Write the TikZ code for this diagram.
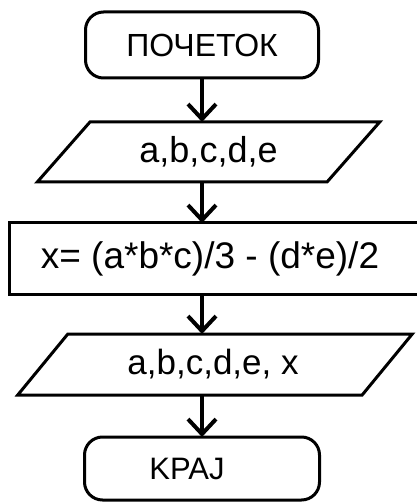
\documentclass[tikz,border=0pt]{standalone}
\usepackage{fontspec}
\setmainfont{Liberation Sans}
\usetikzlibrary{shapes.geometric,arrows.meta}
\begin{document}
\begin{tikzpicture}[x=1pt,y=-1pt,
  box/.style={draw=black,line width=3pt,inner sep=0pt,outer sep=0pt},
  term/.style={box,rectangle,rounded corners=18pt},
  io/.style={box,trapezium,trapezium left angle=45,trapezium right angle=135,trapezium stretches=true},
  proc/.style={box,rectangle},
  flow/.style={line width=4pt,-{Straight Barb[length=15pt,width=28pt]}}]
\useasboundingbox[fill=white] (0,0) rectangle (416,502);
\node[term,minimum width=233pt,minimum height=66pt] (start) at (202,45)
  {\fontsize{32}{36}\selectfont\raisebox{-5pt}{ПОЧЕТОК}};
\node[io,minimum width=343pt,minimum height=60pt] (in1) at (208.5,152)
  {\fontsize{36}{40}\selectfont a,b,c,d,e};
\node[proc,minimum width=414pt,minimum height=71pt] (calc) at (216,258.5)
  {\fontsize{37}{40}\selectfont x= (a*b*c)/3 - (d*e)/2\kern12pt};
\node[io,minimum width=396pt,minimum height=61pt] (out1) at (215,364.5)
  {\fontsize{35}{38}\selectfont a,b,c,d,e, x\kern4pt};
\node[term,minimum width=235pt,minimum height=63pt] (stop) at (202,468.5)
  {\fontsize{31}{34}\selectfont\raisebox{-3pt}{KPAJ}\kern30pt};
\draw[flow] (start.south) -- (start.south |- in1.north);
\draw[flow] (start.south |- in1.south) -- (start.south |- calc.north);
\draw[flow] (start.south |- calc.south) -- (start.south |- out1.north);
\draw[flow] (start.south |- out1.south) -- (stop.north);
\end{tikzpicture}
\end{document}
